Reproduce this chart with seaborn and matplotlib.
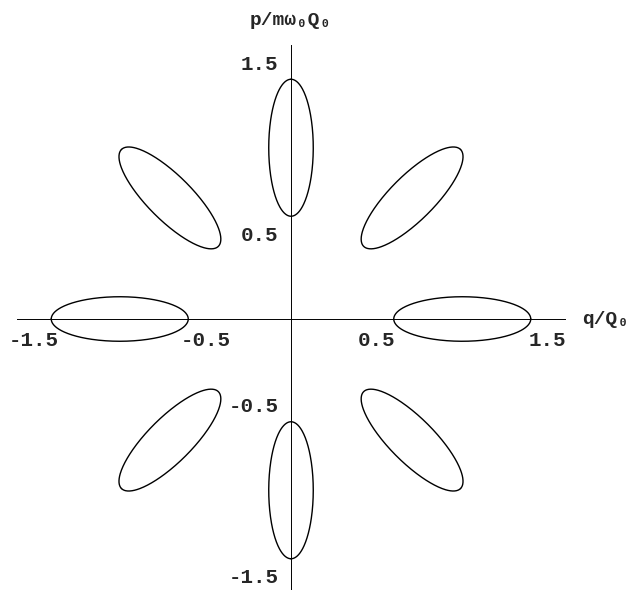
import numpy as np
import pandas as pd
import seaborn as sns
import matplotlib
matplotlib.use("Agg")
import matplotlib.pyplot as plt

# %% Data: eight squeezed states on a circle of radius 1 in phase space
state_angles_deg = [0, 45, 90, 135, 180, 225, 270, 315]
center_radius = 1.0
radial_semi_axis = 0.4
tangential_semi_axis = 0.13

tick_values = [-1.5, -0.5, 0.5, 1.5]
tick_labels = ["-1.5", "-0.5", "0.5", "1.5"]
x_label = "q/Q₀"
y_label = "p/mω₀Q₀"

# %% Build outline table for the uncertainty ellipses
phi = np.linspace(0, 2 * np.pi, 361)
rows = []
for k, ang in enumerate(state_angles_deg):
    th = np.deg2rad(ang)
    cx, cy = center_radius * np.cos(th), center_radius * np.sin(th)
    u = radial_semi_axis * np.cos(phi)
    v = tangential_semi_axis * np.sin(phi)
    xs = cx + u * np.cos(th) - v * np.sin(th)
    ys = cy + u * np.sin(th) + v * np.cos(th)
    rows.append(pd.DataFrame({"state": k, "order": np.arange(len(phi)), "q": xs, "p": ys}))
df = pd.concat(rows, ignore_index=True)

# %% Plot
sns.set_theme(style="white")
plt.rcParams["font.family"] = ["Liberation Mono", "DejaVu Sans Mono"]
plt.rcParams["font.weight"] = "bold"

fig = plt.figure(figsize=(6.34, 5.90), dpi=100)
ax = fig.add_axes([17 / 634, (590 - 593) / 590, 548 / 634, 548 / 590])

sns.lineplot(data=df, x="q", y="p", units="state", estimator=None, sort=False,
             color="black", linewidth=1.0, ax=ax, legend=False)

ax.set_xlim(-1.6, 1.6)
ax.set_ylim(-1.6, 1.6)
for side in ["top", "right"]:
    ax.spines[side].set_visible(False)
for side in ["left", "bottom"]:
    ax.spines[side].set_position("zero")
    ax.spines[side].set_linewidth(0.7)
    ax.spines[side].set_color("black")

ax.set_xticks(tick_values)
ax.set_xticklabels(tick_labels)
ax.set_yticks(tick_values)
ax.set_yticklabels(tick_labels)
ax.tick_params(axis="both", direction="in", length=2.5, width=0.7, color="black",
               labelsize=15, pad=9)
for lab in ax.get_xticklabels() + ax.get_yticklabels():
    lab.set_fontweight("bold")
ax.set_xlabel("")
ax.set_ylabel("")

ax.text(1.70, 0.0, x_label, ha="left", va="center", fontsize=14,
        fontweight="bold", clip_on=False)
ax.text(0.0, 1.745, y_label, ha="center", va="center", fontsize=14,
        fontweight="bold", clip_on=False)

fig.savefig("out.png", dpi=100)
